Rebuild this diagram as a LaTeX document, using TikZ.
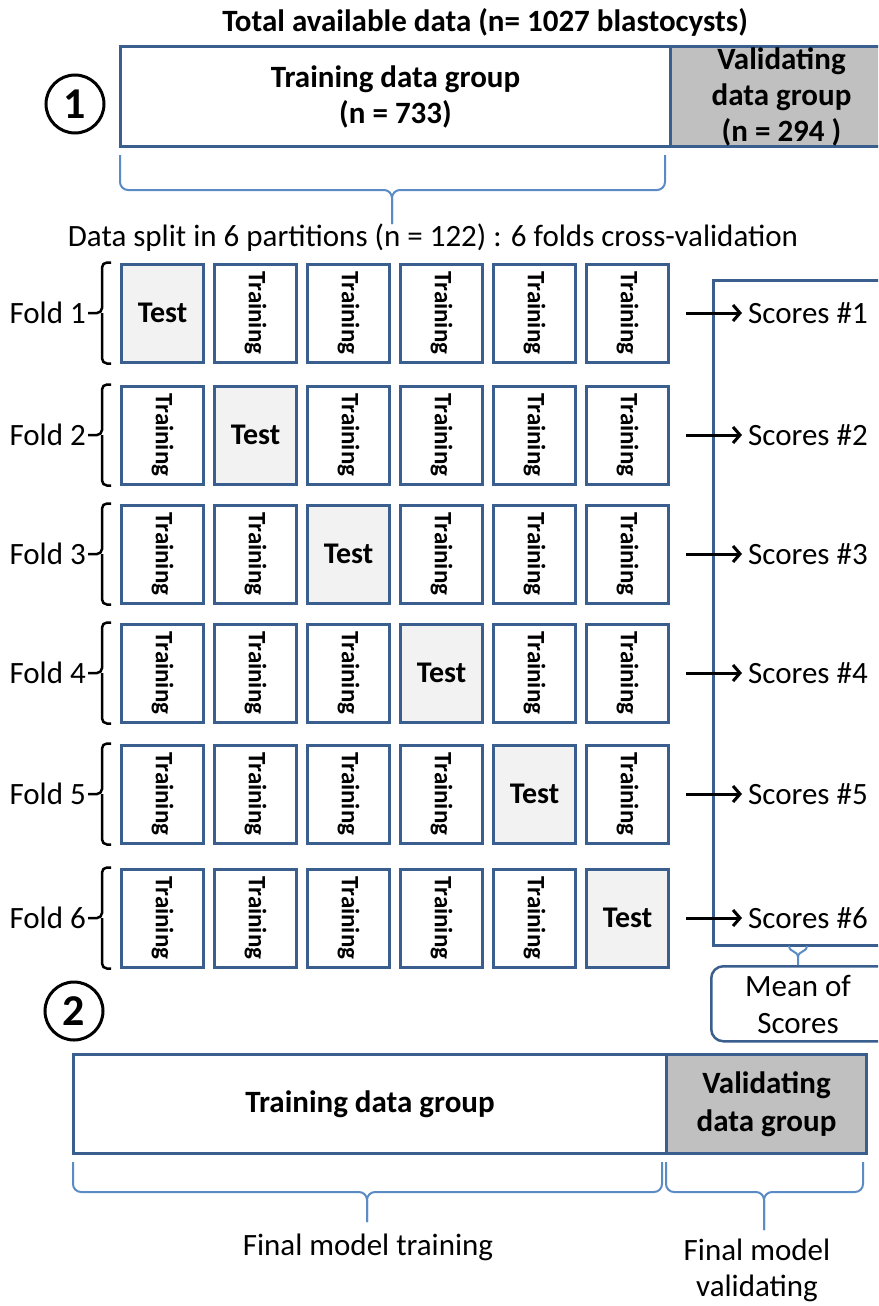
\documentclass[tikz,border=0pt]{standalone}
\usepackage{fontspec}
\setmainfont{Carlito}
\usepackage{graphicx}
\usetikzlibrary{arrows.meta}
\definecolor{boxblue}{HTML}{3A5F8F}
\definecolor{braceblue}{HTML}{5B8BC5}
\definecolor{testgrey}{HTML}{F2F2F2}
\definecolor{valgrey}{HTML}{C0C0C0}
\begin{document}
\begin{tikzpicture}[x=1pt,y=-1pt,
  lbl/.style={inner sep=2pt, font=\fontsize{31}{37}\selectfont},
  bold/.style={inner sep=2pt, font=\bfseries\fontsize{31}{35}\selectfont},
  fbox/.style={draw=boxblue, line width=3pt, minimum width=82pt, minimum height=98pt, inner sep=0pt},
  trbox/.style={fbox, fill=white, font=\bfseries\fontsize{25}{28}\selectfont},
  tsbox/.style={fbox, fill=testgrey, font=\bfseries\fontsize{30}{32}\selectfont},
  bigbox/.style={draw=boxblue, line width=3pt, anchor=north west, inner sep=0pt, align=center, font=\bfseries\fontsize{31}{36}\selectfont},
  foldbrace/.style={draw=black, line width=2.5pt, rounded corners=5pt},
  bbrace/.style={draw=braceblue, line width=2pt, rounded corners=8pt},
  arr/.style={draw=black, line width=3pt, -{Straight Barb[length=7pt,width=16pt,line width=3pt]}},
  num/.style={circle, draw=black, line width=3pt, minimum size=58pt, inner sep=0pt, font=\bfseries\fontsize{44}{44}\selectfont}
]
\useasboundingbox (0,0) rectangle (878,1306);
\clip (0,0) rectangle (878,1306);

% ---- Part 1 ----
\node[bold] (title) at (485,22) {Total available data (n= 1027 blastocysts)};
\node[num] (c1) at (75,104) {1};
\node[bigbox, fill=white, minimum width=550pt, minimum height=100pt] (tr1) at (119,45) {Training data group\\(n = 733)};
\node[bigbox, fill=valgrey, minimum width=222pt, minimum height=100pt] (va1) at ([xshift=-3pt]tr1.north east) {Validating\\data group\\(n = 294 )};

\coordinate (tb1) at (392,224);
\draw[bbrace] (120,155) -- (120,190) -- (392,190) -- (tb1);
\draw[bbrace] (665,155) -- (665,190) -- (392,190) -- (tb1);
\node[lbl] (split) at (433,238) {Data split in 6 partitions (n = 122) : 6 folds cross-validation};

% ---- Scores box ----
\node[draw=boxblue, line width=3pt, minimum width=200pt, minimum height=665pt, anchor=north west, inner sep=0pt] (sb) at (711.5,278.5) {};

% ---- folds ----
\foreach \r/\yc in {1/313,2/435,3/554,4/673,5/794,6/918} {
  \foreach \c in {1,...,6} {
    \pgfmathsetmacro\xc{162.5+93*(\c-1)}
    \ifnum\c=\r
      \node[tsbox] (b\r\c) at (\xc,\yc) {Test};
    \else
      \node[trbox] (b\r\c) at (\xc,\yc) {\rotatebox{-90}{Training}};
    \fi
  }
  \node[lbl, anchor=east] (f\r) at (88,\yc) {Fold \r};
  \draw[foldbrace] ([xshift=-9pt]b\r1.north west) -- ([xshift=-18pt]b\r1.north west) -- ([xshift=-18pt]b\r1.west) -- (f\r.east);
  \draw[foldbrace] ([xshift=-9pt]b\r1.south west) -- ([xshift=-18pt]b\r1.south west) -- ([xshift=-18pt]b\r1.west);
  \node[lbl, anchor=west] (s\r) at (746,\yc) {Scores \#\r};
  \draw[arr] ([xshift=16pt]b\r6.east) -- ([xshift=-4pt]s\r.west);
}

% ---- Mean of scores ----
\node[draw=boxblue, line width=2.5pt, rounded corners=12pt, minimum width=200pt, minimum height=75pt, anchor=north west, inner sep=0pt] (mean) at (710,965) {};
\node[lbl, align=center] (meantxt) at (798,1004) {Mean of\\Scores};
\coordinate (mtip) at (798,965);
\draw[draw=braceblue, line width=2pt] (789,946) .. controls (790,953) and (797,950) .. (798,957) -- (mtip);
\draw[draw=braceblue, line width=2pt] (807,946) .. controls (806,953) and (799,950) .. (798,957);

% ---- Part 2 ----
\node[num] (c2) at (74,1011) {2};
\node[bigbox, fill=white, minimum width=593pt, minimum height=99pt] (tr2) at (72,1053) {Training data group};
\node[bigbox, fill=valgrey, minimum width=200pt, minimum height=99pt, font=\bfseries\fontsize{31}{38}\selectfont] (va2) at ([xshift=-3pt]tr2.north east) {Validating\\data group};

\coordinate (tb2) at (367,1222);
\draw[bbrace] (73,1162) -- (73,1192) -- (367,1192) -- (tb2);
\draw[bbrace] (662,1162) -- (662,1192) -- (367,1192) -- (tb2);
\coordinate (tb3) at (764,1230);
\draw[bbrace] (666,1162) -- (666,1192) -- (764,1192) -- (tb3);
\draw[bbrace] (863,1162) -- (863,1192) -- (764,1192) -- (tb3);

\node[lbl] (fmt) at (368,1247) {Final model training};
\node[lbl, align=center, font=\fontsize{31}{36}\selectfont] (fmv) at (757,1270) {Final model\\validating};
\end{tikzpicture}
\end{document}
